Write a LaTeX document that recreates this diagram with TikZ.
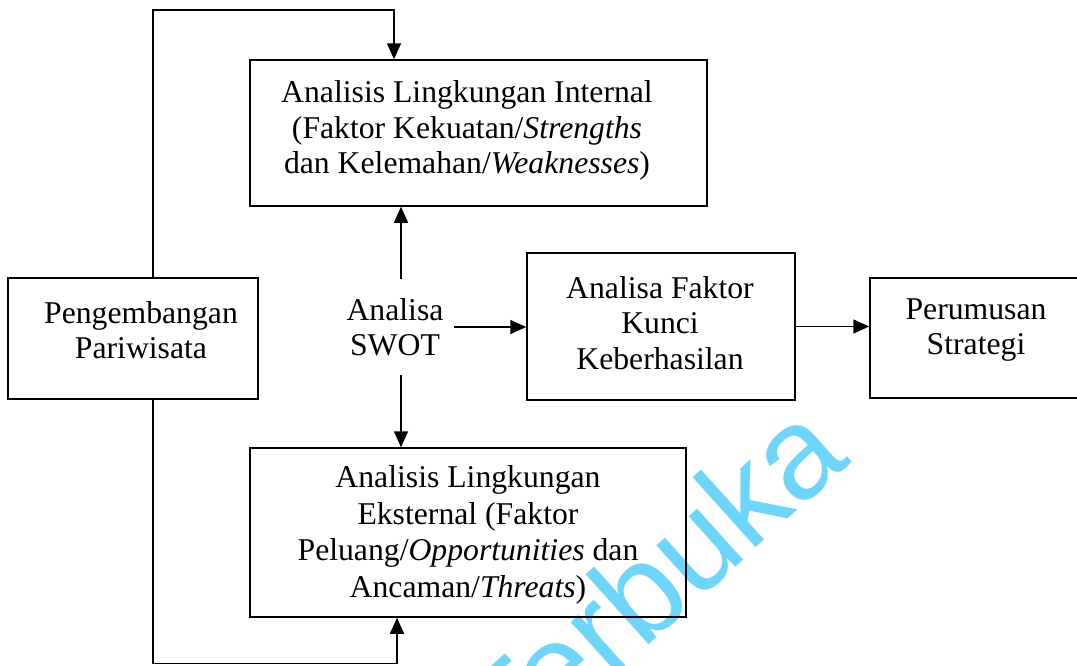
\documentclass[tikz,border=0pt]{standalone}
\usepackage{fontspec}
\setmainfont{Liberation Serif}
\newfontfamily\wmfont{Liberation Sans}
\usetikzlibrary{arrows.meta}
\definecolor{wm}{RGB}{110,214,250}
\begin{document}
\begin{tikzpicture}[x=1pt,y=-1pt,
  box/.style={draw, line width=1.5pt, inner sep=0pt},
  txt/.style={align=center, font=\fontsize{31.7}{35.5}\selectfont, inner sep=0pt},
  conn/.style={line width=1.5pt},
  arr/.style={conn, -{Triangle[length=16pt,width=14pt]}}]
\useasboundingbox (0,0) rectangle (1077,665);
\begin{scope}
\clip (0,0) rectangle (1077,665);
\node (wmark) [anchor=base east, rotate=42, text=wm, font=\wmfont\fontsize{130}{130}\selectfont, inner sep=0pt] at (852,462) {Terbuka};
\end{scope}
% boxes
\node[box, minimum width=457pt, minimum height=146pt] (internal) at (478.5,133) {};
\node[box, minimum width=250pt, minimum height=121pt] (peng) at (133,338.5) {};
\node[box, minimum width=268pt, minimum height=147pt] (faktor) at (661,326.5) {};
\node[box, minimum width=230pt, minimum height=120pt] (perum) at (985,338) {};
\node[box, minimum width=436pt, minimum height=169pt] (external) at (468,532.5) {};
% texts
\node[txt] (tInt) at (467,130.5) {Analisis Lingkungan Internal\\(Faktor Kekuatan/\textit{Strengths}\\dan Kelemahan/\textit{Weaknesses})};
\node[txt] (tPeng) at (141,330) {Pengembangan\\Pariwisata};
\node[txt] (tFak) at (660,323) {Analisa Faktor\\Kunci\\Keberhasilan};
\node[txt] (tPer) at (976,330) {Perumusan\\Strategi};
\node[txt, font=\fontsize{31.7}{36.6}\selectfont] (tExt) at (468,535) {Analisis Lingkungan\\Eksternal (Faktor\\Peluang/\textit{Opportunities} dan\\Ancaman/\textit{Threats})};
\node[txt, minimum width=118pt, minimum height=95pt] (swot) at (395,327) {Analisa\\SWOT};
% connectors
\coordinate (su) at ([xshift=6pt]swot.north);
\coordinate (sd) at ([xshift=6pt]swot.south);
\draw[arr] (su) -- (su |- internal.south);
\draw[arr] (sd) -- (sd |- external.north);
\draw[arr] (swot.east) -- (swot.east -| faktor.west);
\draw[arr] (faktor.east) -- (faktor.east -| perum.west);
\coordinate (pn) at ([xshift=20pt]peng.north);
\coordinate (tl) at (153,10);
\coordinate (tr) at (394,10);
\draw[arr] (pn) -- (tl) -- (tr) -- (tr |- internal.north);
\coordinate (ps) at ([xshift=20pt]peng.south);
\coordinate (bl) at (153,663.5);
\coordinate (br) at (397,663.5);
\draw[arr] (ps) -- (bl) -- (br) -- (br |- external.south);
\end{tikzpicture}
\end{document}
